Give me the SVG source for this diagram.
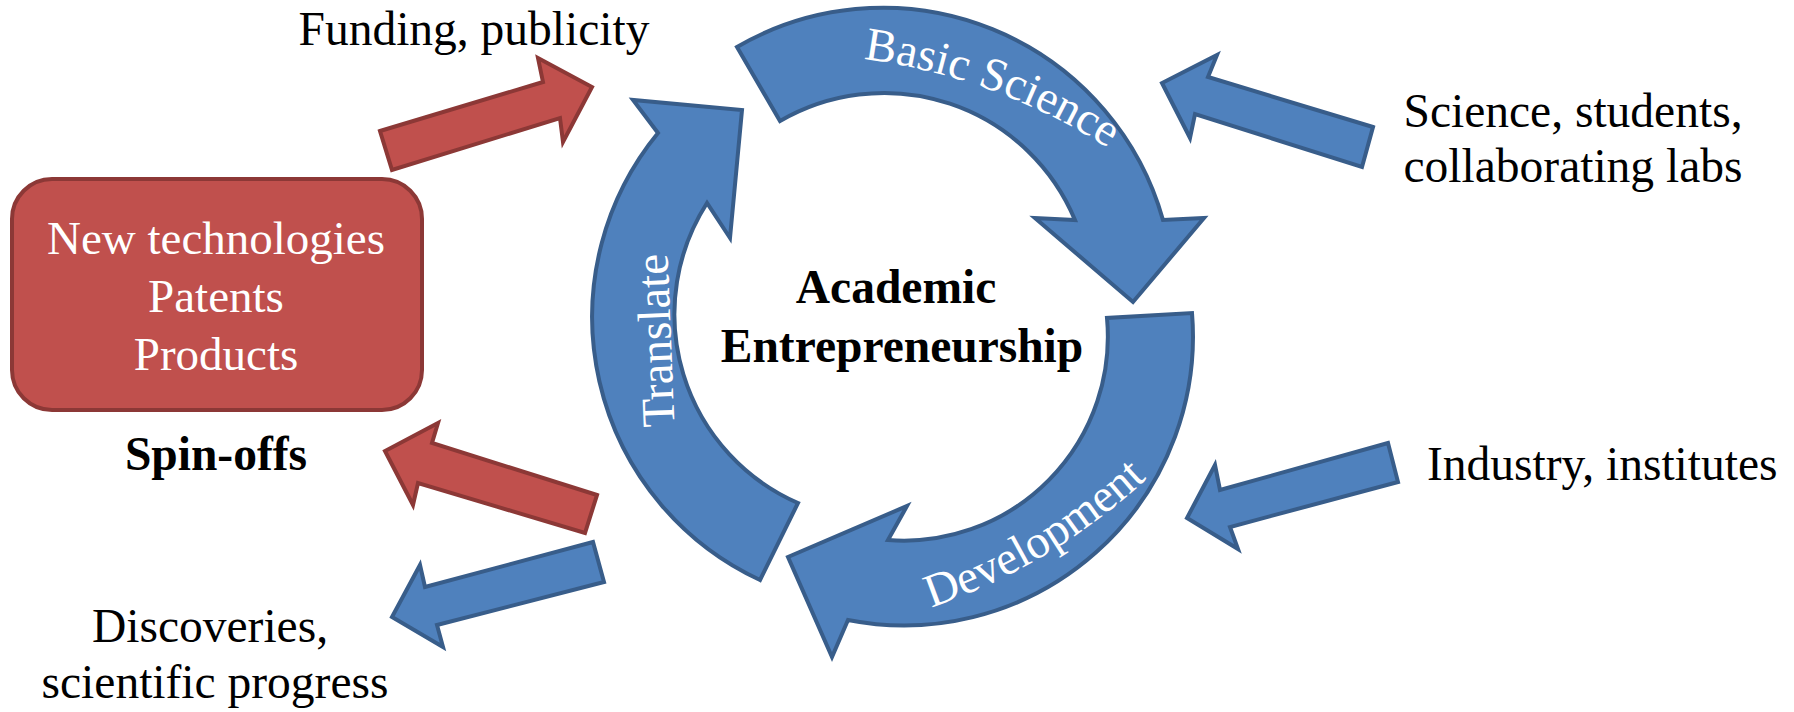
<svg xmlns="http://www.w3.org/2000/svg" width="1794" height="712" viewBox="0 0 1794 712">
  <style>
    .blue { fill: #4F81BD; stroke: #385D8A; stroke-width: 4; stroke-linejoin: miter; }
    .red { fill: #C0504D; stroke: #8C3836; stroke-width: 4; stroke-linejoin: miter; }
    .t { font-family: "Liberation Serif", "Times New Roman", serif; font-size: 47.5px; fill: #000000; }
    .w { font-family: "Liberation Serif", "Times New Roman", serif; font-size: 47px; fill: #FFFFFF; }
    .b { font-weight: bold; }
  </style>
  <defs>
    <path id="pBasic" d="M 846,57 A 600 600 0 0 1 1123,158"/>
    <path id="pTrans" d="M 675,440 L 667,240"/>
    <path id="pDev" d="M 914,613 A 600 600 0 0 0 1160,466"/>
  </defs>
  <rect width="1794" height="712" fill="#FFFFFF"/>

  <g id="connectors">
    <path id="arrow-funding" class="red" d="M 380,131 L 543,82 L 538,58 L 592,87 L 563,142 L 560,118 L 392,170 Z"/>
    <path id="arrow-spinoffs" class="red" d="M 597,495 L 432,443 L 438,423 L 385,451 L 413,505 L 418,483 L 585,533 Z"/>
    <path id="arrow-discoveries" class="blue" d="M 593,542 L 425,587 L 420,565 L 392,617 L 443,647 L 437,625 L 604,582 Z"/>
    <path id="arrow-science" class="blue" d="M 1373,127 L 1208,77 L 1217,55 L 1162,83 L 1190,138 L 1195,114 L 1362,167 Z"/>
    <path id="arrow-industry" class="blue" d="M 1388,443 L 1220,490 L 1215,465 L 1187,518 L 1238,549 L 1230,527 L 1398,482 Z"/>
  </g>

  <g id="node-basic-science">
    <path class="blue" d="M 737,47 A 291 291 0 0 1 1163,220 L 1204,218 L 1133,302 L 1035,218 L 1075,220 A 207 207 0 0 0 780,121 Z"/>
    <text class="w"><textPath href="#pBasic" startOffset="50%" text-anchor="middle">Basic Science</textPath></text>
  </g>
  <g id="node-translate">
    <path class="blue" d="M 760,580 A 290 290 0 0 1 658,133 L 633,100 L 742,110 L 730,238 L 707,203 A 206 206 0 0 0 798,503 Z"/>
    <text class="w"><textPath href="#pTrans" startOffset="50%" text-anchor="middle">Translate</textPath></text>
  </g>
  <g id="node-development">
    <path class="blue" d="M 1192,313 A 289 289 0 0 1 848,620 L 832,657 L 788,557 L 907,506 L 888,540 A 204 204 0 0 0 1107,318 Z"/>
    <text class="w"><textPath href="#pDev" startOffset="50%" text-anchor="middle">Development</textPath></text>
  </g>

  <g id="node-center">
    <text class="t b" x="896" y="303" text-anchor="middle">Academic</text>
    <text class="t b" x="902" y="362" text-anchor="middle">Entrepreneurship</text>
  </g>

  <g id="node-spinoffs">
    <rect class="red" x="12" y="179" width="410" height="231" rx="40" ry="40"/>
    <text class="w" x="216" y="254" text-anchor="middle" font-size="47.5">New technologies</text>
    <text class="w" x="216" y="312" text-anchor="middle" font-size="47.5">Patents</text>
    <text class="w" x="216" y="370" text-anchor="middle" font-size="47.5">Products</text>
    <text class="t b" x="216" y="470" text-anchor="middle">Spin-offs</text>
  </g>

  <g id="node-funding">
    <text class="t" x="474" y="45" text-anchor="middle">Funding, publicity</text>
  </g>
  <g id="node-science">
    <text class="t" x="1573" y="127" text-anchor="middle">Science, students,</text>
    <text class="t" x="1573" y="182" text-anchor="middle">collaborating labs</text>
  </g>
  <g id="node-industry">
    <text class="t" x="1427" y="480">Industry, institutes</text>
  </g>
  <g id="node-discoveries">
    <text class="t" x="210" y="642" text-anchor="middle">Discoveries,</text>
    <text class="t" x="215" y="698" text-anchor="middle">scientific progress</text>
  </g>
</svg>
